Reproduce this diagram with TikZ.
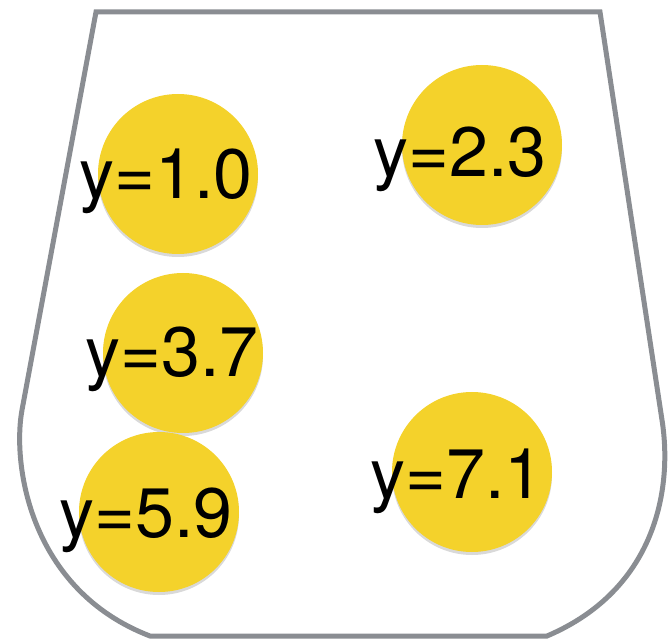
\documentclass[tikz,border=0pt]{standalone}
\usepackage{fontspec}
\setmainfont{TeX Gyre Heros}
\usepackage{xcolor}
\usepackage{tikz}
\usetikzlibrary{shadows}
\definecolor{BallYellow}{HTML}{F4D22B}
\definecolor{CupGray}{HTML}{8A8D92}

\begin{document}
\begin{tikzpicture}[
  x=1pt, y=-1pt,
  cup/.style={draw=CupGray, line width=5pt, line join=miter},
  ball/.style={circle, fill=BallYellow, minimum size=160pt, inner sep=0pt,
    drop shadow={shadow xshift=0pt, shadow yshift=-3pt, opacity=0.3}},
  lbl/.style={anchor=base, inner sep=0pt, font=\fontsize{70}{82}\selectfont}
]
\useasboundingbox (0,0) rectangle (670,644);
\draw[cup] (96,12) -- (600,12) -- (662,420)
  .. controls (673,490) and (655,590) .. (547,636) -- (150,636)
  .. controls (30,590) and (12,465) .. (22,410) -- cycle;

\node[ball] (b1) at (178,174) {};
\node[ball] (b2) at (482,145) {};
\node[ball] (b3) at (183,353) {};
\node[ball] (b4) at (159,512) {};
\node[ball] (b5) at (472,472) {};

\node[lbl] (t1) at (166,199) {y=1.0};
\node[lbl] (t2) at (460,177) {y=2.3};
\node[lbl] (t3) at (172,377) {y=3.7};
\node[lbl] (t4) at (146,537) {y=5.9};
\node[lbl] (t5) at (457,498) {y=7.1};
\end{tikzpicture}
\end{document}
